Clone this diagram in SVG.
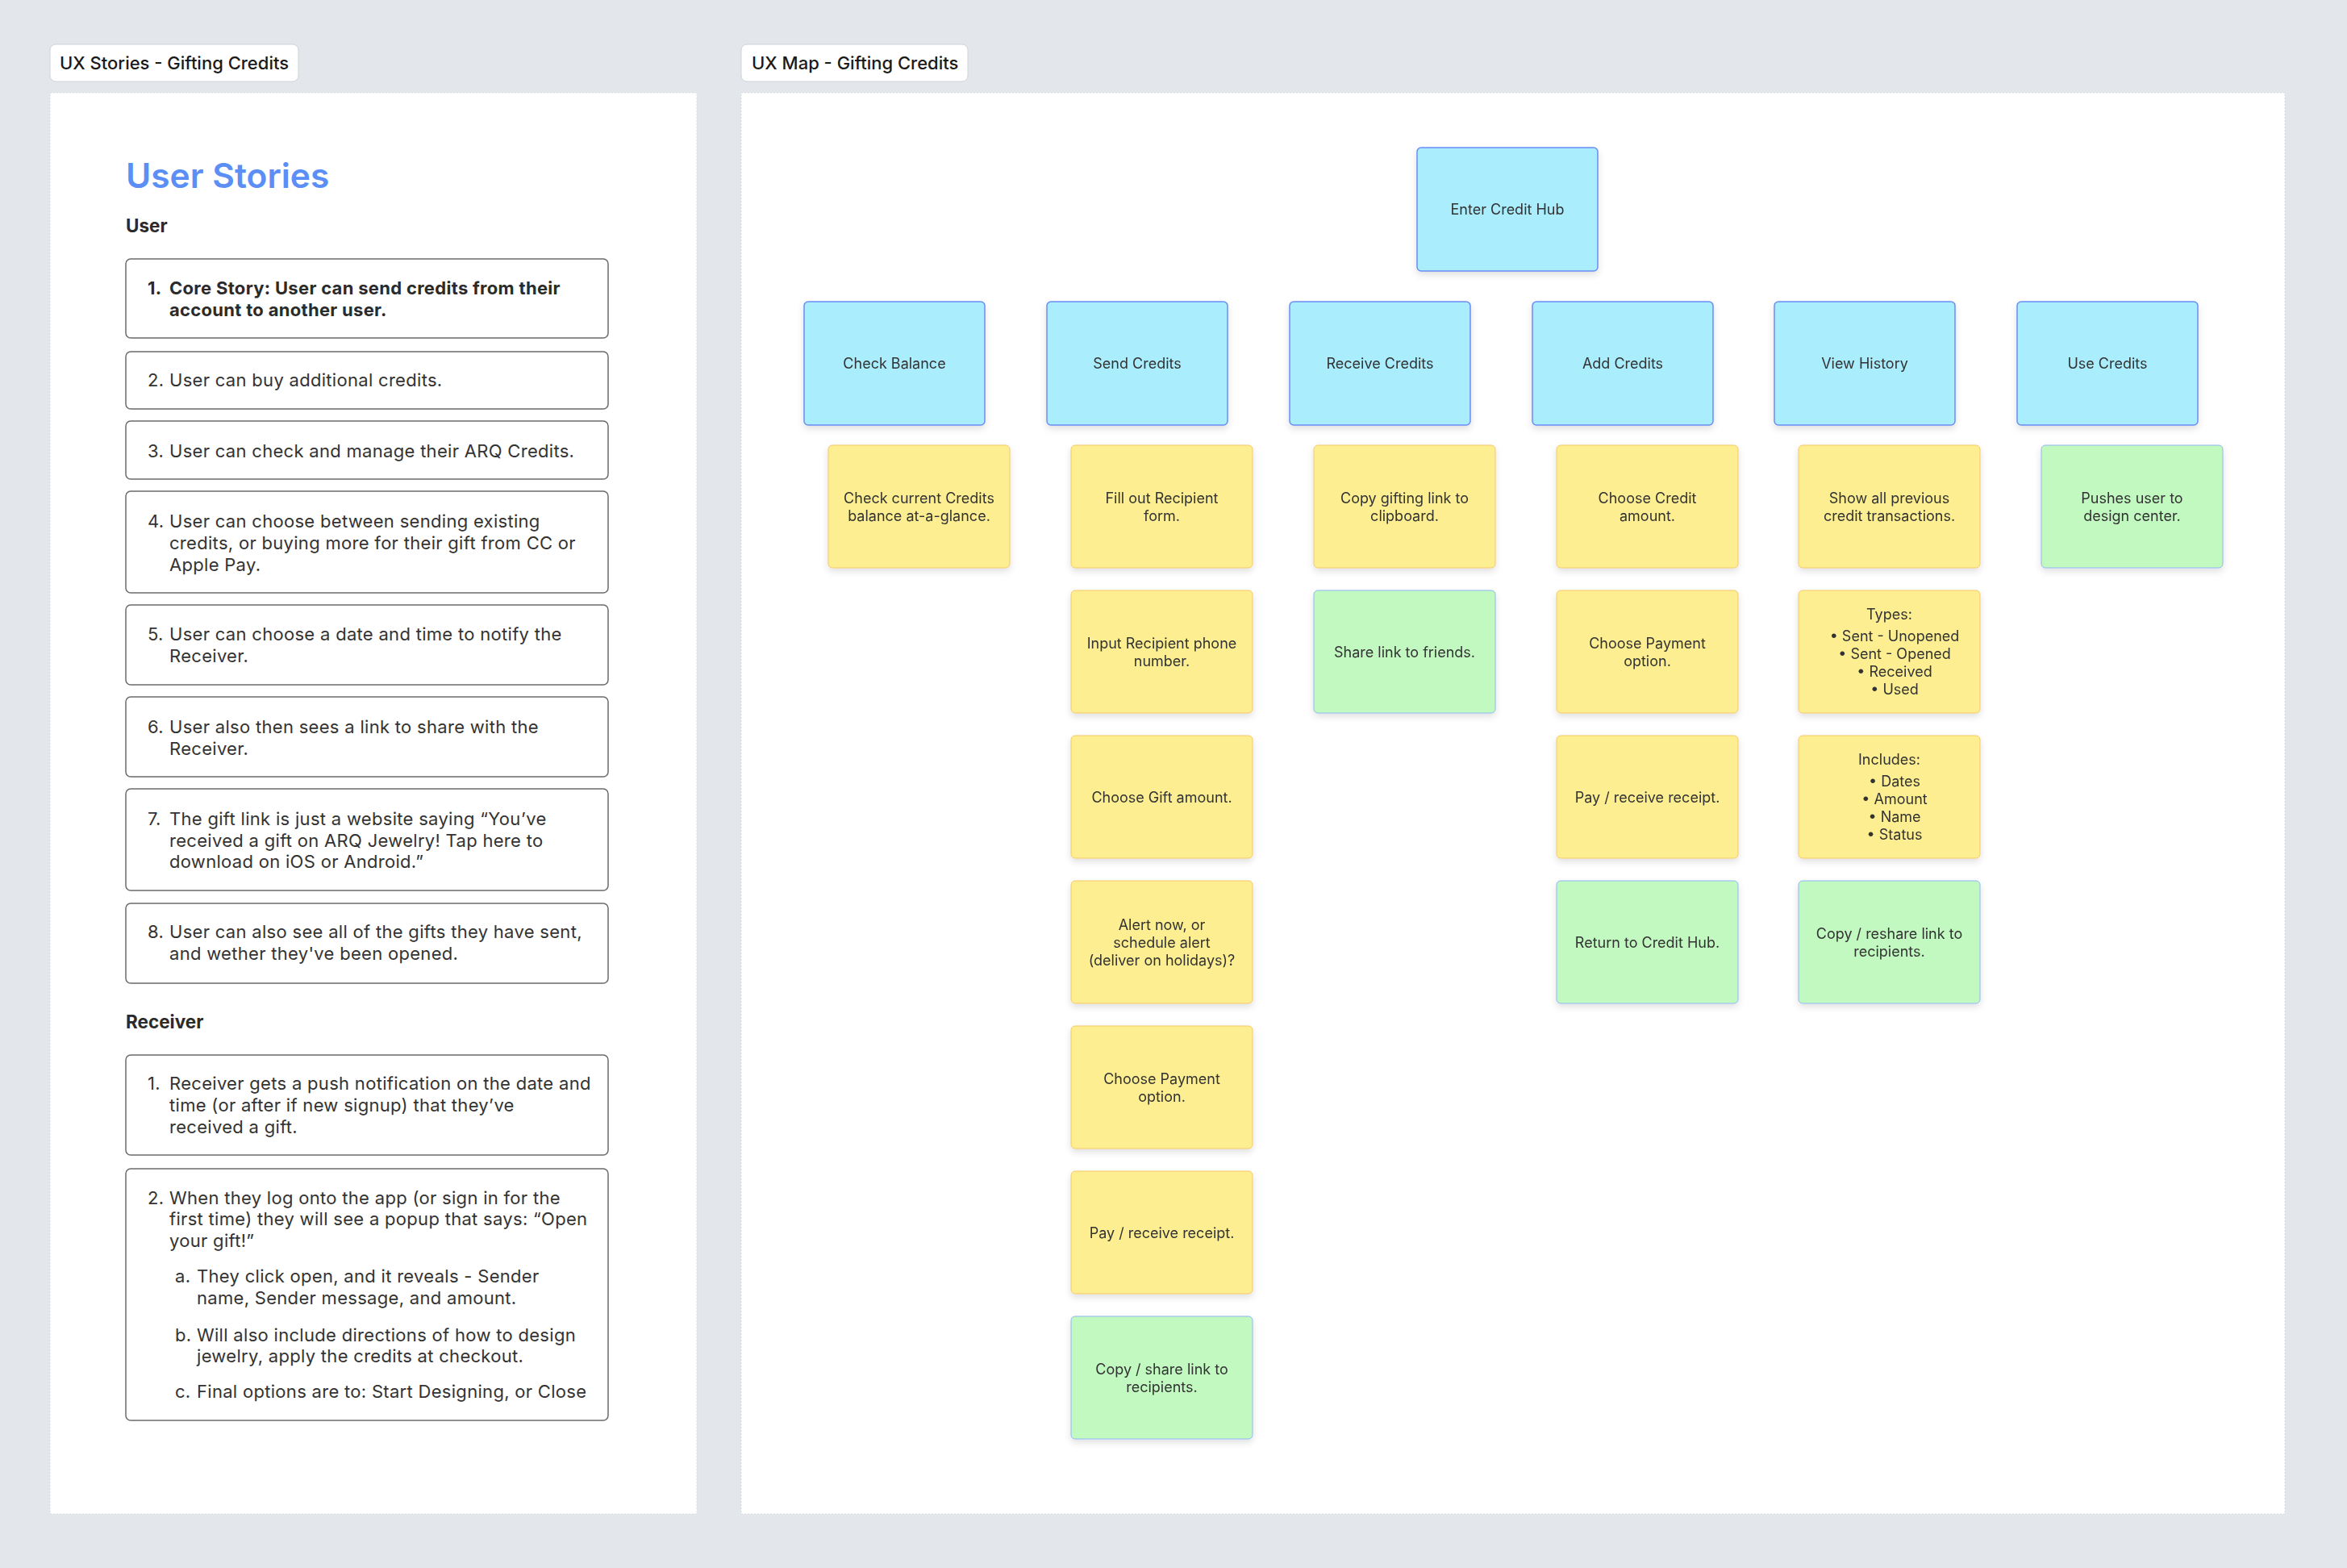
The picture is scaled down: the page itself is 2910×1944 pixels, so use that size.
<svg xmlns="http://www.w3.org/2000/svg" width="2910" height="1944" viewBox="0 0 2910 1944">
<style>
.bg{fill:#e3e6ea}
.panel{fill:#ffffff;stroke:#d8dbe0;stroke-width:1;stroke-dasharray:2 2}
.lbl{fill:#ffffff;stroke:#cfd3d8;stroke-width:1}
.lbltxt{font-family:Inter,"Liberation Sans",sans-serif;font-size:22px;font-weight:500;fill:#1a1a1a}
.title{font-family:Inter,"Liberation Sans",sans-serif;font-size:42.5px;font-weight:600;fill:#5b8ff5}
.head{font-family:Inter,"Liberation Sans",sans-serif;font-size:22.5px;font-weight:700;fill:#2b2b2b}
.story{fill:#ffffff;stroke:#6b6b6b;stroke-width:1.5}
.st{font-family:Inter,"Liberation Sans",sans-serif;font-size:22px;letter-spacing:0.3px;font-weight:400;fill:#333333}
.stb{font-family:Inter,"Liberation Sans",sans-serif;font-size:22px;letter-spacing:0.3px;font-weight:700;fill:#2b2b2b}
.blue{fill:#aaedfd;stroke:#6b8df5;stroke-width:1.5}
.yel{fill:#fdef91;stroke:#f5c768;stroke-width:1}
.grn{fill:#c1f9c0;stroke:#8fb6f5;stroke-width:1}
.nt{font-family:Inter,"Liberation Sans",sans-serif;font-size:18px;font-weight:400;fill:#333333;text-anchor:middle}
</style>
<defs>
<filter id="sh" x="-10%" y="-10%" width="120%" height="130%">
<feDropShadow dx="0" dy="4" stdDeviation="4" flood-color="#000000" flood-opacity="0.12"/>
</filter>
</defs>
<rect class="bg" x="0" y="0" width="2910" height="1944"/>

<!-- Left panel -->
<g id="stories-panel">
<rect class="lbl" x="62" y="55" width="308" height="46" rx="7"/>
<text class="lbltxt" x="74" y="86">UX Stories - Gifting Credits</text>
<rect class="panel" x="62" y="115" width="802" height="1762"/>
<text class="title" x="156" y="233">User Stories</text>
<text class="head" x="156" y="288">User</text>
</g>

<g id="story-1">
<rect class="story" x="156" y="321" width="598" height="98" rx="6"/>
<text class="stb" x="183" y="365">1.</text>
<text class="stb" x="210" y="365">Core Story: User can send credits from their</text>
<text class="stb" x="210" y="392">account to another user.</text>
</g>
<g id="story-2">
<rect class="story" x="156" y="436" width="598" height="71" rx="6"/>
<text class="st" x="183" y="479">2.</text>
<text class="st" x="210" y="479">User can buy additional credits.</text>
</g>
<g id="story-3">
<rect class="story" x="156" y="522" width="598" height="72" rx="6"/>
<text class="st" x="183" y="567">3.</text>
<text class="st" x="210" y="567">User can check and manage their ARQ Credits.</text>
</g>
<g id="story-4">
<rect class="story" x="156" y="609" width="598" height="126" rx="6"/>
<text class="st" x="183" y="654">4.</text>
<text class="st" x="210" y="654">User can choose between sending existing</text>
<text class="st" x="210" y="681">credits, or buying more for their gift from CC or</text>
<text class="st" x="210" y="708">Apple Pay.</text>
</g>
<g id="story-5">
<rect class="story" x="156" y="750" width="598" height="99" rx="6"/>
<text class="st" x="183" y="794">5.</text>
<text class="st" x="210" y="794">User can choose a date and time to notify the</text>
<text class="st" x="210" y="821">Receiver.</text>
</g>
<g id="story-6">
<rect class="story" x="156" y="864" width="598" height="99" rx="6"/>
<text class="st" x="183" y="909">6.</text>
<text class="st" x="210" y="909">User also then sees a link to share with the</text>
<text class="st" x="210" y="936">Receiver.</text>
</g>
<g id="story-7">
<rect class="story" x="156" y="978" width="598" height="126" rx="6"/>
<text class="st" x="183" y="1023">7.</text>
<text class="st" x="210" y="1023">The gift link is just a website saying “You’ve</text>
<text class="st" x="210" y="1050">received a gift on ARQ Jewelry! Tap here to</text>
<text class="st" x="210" y="1076">download on iOS or Android.”</text>
</g>
<g id="story-8">
<rect class="story" x="156" y="1120" width="598" height="99" rx="6"/>
<text class="st" x="183" y="1163">8.</text>
<text class="st" x="210" y="1163">User can also see all of the gifts they have sent,</text>
<text class="st" x="210" y="1190">and wether they've been opened.</text>
</g>

<text class="head" x="156" y="1275">Receiver</text>

<g id="receiver-1">
<rect class="story" x="156" y="1308" width="598" height="124" rx="6"/>
<text class="st" x="183" y="1351">1.</text>
<text class="st" x="210" y="1351">Receiver gets a push notification on the date and</text>
<text class="st" x="210" y="1378">time (or after if new signup) that they’ve</text>
<text class="st" x="210" y="1405">received a gift.</text>
</g>
<g id="receiver-2">
<rect class="story" x="156" y="1449" width="598" height="312" rx="6"/>
<text class="st" x="183" y="1493">2.</text>
<text class="st" x="210" y="1493">When they log onto the app (or sign in for the</text>
<text class="st" x="210" y="1519">first time) they will see a popup that says: “Open</text>
<text class="st" x="210" y="1546">your gift!”</text>
<text class="st" x="217" y="1590">a.</text>
<text class="st" x="244" y="1590">They click open, and it reveals - Sender</text>
<text class="st" x="244" y="1617">name, Sender message, and amount.</text>
<text class="st" x="217" y="1663">b.</text>
<text class="st" x="244" y="1663">Will also include directions of how to design</text>
<text class="st" x="244" y="1689">jewelry, apply the credits at checkout.</text>
<text class="st" x="217" y="1733">c.</text>
<text class="st" x="244" y="1733">Final options are to: Start Designing, or Close</text>
</g>

<!-- Right panel -->
<g id="map-panel">
<rect class="lbl" x="919" y="55" width="281" height="46" rx="7"/>
<text class="lbltxt" x="932" y="86">UX Map - Gifting Credits</text>
<rect class="panel" x="919" y="115" width="1914" height="1762"/>
</g>

<g id="connectors"></g>

<g id="enter-credit-hub" filter="url(#sh)">
<rect class="blue" x="1757" y="183" width="224" height="153" rx="5"/>
<text class="nt" x="1869" y="266">Enter Credit Hub</text>
</g>
<g id="check-balance" filter="url(#sh)">
<rect class="blue" x="997" y="374" width="224" height="153" rx="5"/>
<text class="nt" x="1109" y="457">Check Balance</text>
</g>
<g id="send-credits" filter="url(#sh)">
<rect class="blue" x="1298" y="374" width="224" height="153" rx="5"/>
<text class="nt" x="1410" y="457">Send Credits</text>
</g>
<g id="receive-credits" filter="url(#sh)">
<rect class="blue" x="1599" y="374" width="224" height="153" rx="5"/>
<text class="nt" x="1711" y="457">Receive Credits</text>
</g>
<g id="add-credits" filter="url(#sh)">
<rect class="blue" x="1900" y="374" width="224" height="153" rx="5"/>
<text class="nt" x="2012" y="457">Add Credits</text>
</g>
<g id="view-history" filter="url(#sh)">
<rect class="blue" x="2200" y="374" width="224" height="153" rx="5"/>
<text class="nt" x="2312" y="457">View History</text>
</g>
<g id="use-credits" filter="url(#sh)">
<rect class="blue" x="2501" y="374" width="224" height="153" rx="5"/>
<text class="nt" x="2613" y="457">Use Credits</text>
</g>

<!-- Column: Check Balance -->
<g id="check-current" filter="url(#sh)">
<rect class="yel" x="1027" y="552" width="225" height="152" rx="5"/>
<text class="nt" x="1139.5" y="624">Check current Credits</text>
<text class="nt" x="1139.5" y="646">balance at-a-glance.</text>
</g>

<!-- Column: Send Credits -->
<g id="fill-recipient" filter="url(#sh)">
<rect class="yel" x="1328" y="552" width="225" height="152" rx="5"/>
<text class="nt" x="1440.5" y="624">Fill out Recipient</text>
<text class="nt" x="1440.5" y="646">form.</text>
</g>
<g id="input-phone" filter="url(#sh)">
<rect class="yel" x="1328" y="732" width="225" height="152" rx="5"/>
<text class="nt" x="1440.5" y="804">Input Recipient phone</text>
<text class="nt" x="1440.5" y="826">number.</text>
</g>
<g id="choose-gift" filter="url(#sh)">
<rect class="yel" x="1328" y="912" width="225" height="152" rx="5"/>
<text class="nt" x="1440.5" y="995">Choose Gift amount.</text>
</g>
<g id="alert-now" filter="url(#sh)">
<rect class="yel" x="1328" y="1092" width="225" height="152" rx="5"/>
<text class="nt" x="1440.5" y="1153">Alert now, or</text>
<text class="nt" x="1440.5" y="1175">schedule alert</text>
<text class="nt" x="1440.5" y="1197">(deliver on holidays)?</text>
</g>
<g id="send-payment" filter="url(#sh)">
<rect class="yel" x="1328" y="1272" width="225" height="152" rx="5"/>
<text class="nt" x="1440.5" y="1344">Choose Payment</text>
<text class="nt" x="1440.5" y="1366">option.</text>
</g>
<g id="send-pay" filter="url(#sh)">
<rect class="yel" x="1328" y="1452" width="225" height="152" rx="5"/>
<text class="nt" x="1440.5" y="1535">Pay / receive receipt.</text>
</g>
<g id="send-copy" filter="url(#sh)">
<rect class="grn" x="1328" y="1632" width="225" height="152" rx="5"/>
<text class="nt" x="1440.5" y="1704">Copy / share link to</text>
<text class="nt" x="1440.5" y="1726">recipients.</text>
</g>

<!-- Column: Receive Credits -->
<g id="copy-gifting" filter="url(#sh)">
<rect class="yel" x="1629" y="552" width="225" height="152" rx="5"/>
<text class="nt" x="1741.5" y="624">Copy gifting link to</text>
<text class="nt" x="1741.5" y="646">clipboard.</text>
</g>
<g id="share-friends" filter="url(#sh)">
<rect class="grn" x="1629" y="732" width="225" height="152" rx="5"/>
<text class="nt" x="1741.5" y="815">Share link to friends.</text>
</g>

<!-- Column: Add Credits -->
<g id="choose-credit" filter="url(#sh)">
<rect class="yel" x="1930" y="552" width="225" height="152" rx="5"/>
<text class="nt" x="2042.5" y="624">Choose Credit</text>
<text class="nt" x="2042.5" y="646">amount.</text>
</g>
<g id="add-payment" filter="url(#sh)">
<rect class="yel" x="1930" y="732" width="225" height="152" rx="5"/>
<text class="nt" x="2042.5" y="804">Choose Payment</text>
<text class="nt" x="2042.5" y="826">option.</text>
</g>
<g id="add-pay" filter="url(#sh)">
<rect class="yel" x="1930" y="912" width="225" height="152" rx="5"/>
<text class="nt" x="2042.5" y="995">Pay / receive receipt.</text>
</g>
<g id="return-hub" filter="url(#sh)">
<rect class="grn" x="1930" y="1092" width="225" height="152" rx="5"/>
<text class="nt" x="2042.5" y="1175">Return to Credit Hub.</text>
</g>

<!-- Column: View History -->
<g id="show-previous" filter="url(#sh)">
<rect class="yel" x="2230" y="552" width="225" height="152" rx="5"/>
<text class="nt" x="2342.5" y="624">Show all previous</text>
<text class="nt" x="2342.5" y="646">credit transactions.</text>
</g>
<g id="types" filter="url(#sh)">
<rect class="yel" x="2230" y="732" width="225" height="152" rx="5"/>
<text class="nt" x="2342.5" y="768">Types:</text>
<text class="nt" x="2349" y="795">•  Sent - Unopened</text>
<text class="nt" x="2349" y="817">•  Sent - Opened</text>
<text class="nt" x="2349" y="839">•  Received</text>
<text class="nt" x="2349" y="861">•  Used</text>
</g>
<g id="includes" filter="url(#sh)">
<rect class="yel" x="2230" y="912" width="225" height="152" rx="5"/>
<text class="nt" x="2342.5" y="948">Includes:</text>
<text class="nt" x="2349" y="975">•  Dates</text>
<text class="nt" x="2349" y="997">•  Amount</text>
<text class="nt" x="2349" y="1019">•  Name</text>
<text class="nt" x="2349" y="1041">•  Status</text>
</g>
<g id="reshare" filter="url(#sh)">
<rect class="grn" x="2230" y="1092" width="225" height="152" rx="5"/>
<text class="nt" x="2342.5" y="1164">Copy / reshare link to</text>
<text class="nt" x="2342.5" y="1186">recipients.</text>
</g>

<!-- Column: Use Credits -->
<g id="pushes-user" filter="url(#sh)">
<rect class="grn" x="2531" y="552" width="225" height="152" rx="5"/>
<text class="nt" x="2643.5" y="624">Pushes user to</text>
<text class="nt" x="2643.5" y="646">design center.</text>
</g>
</svg>
